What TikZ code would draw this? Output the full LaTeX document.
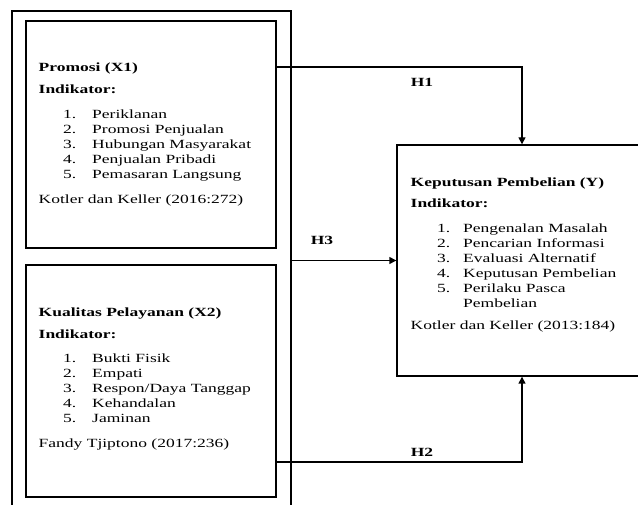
\documentclass[tikz,border=0pt]{standalone}
\usepackage{fontspec}
\setmainfont{Liberation Serif}[FakeStretch=1.4]
\usetikzlibrary{arrows.meta}
\begin{document}
\begin{tikzpicture}[x=1pt,y=-1pt,
  every node/.style={font=\fontsize{12.5}{15}\selectfont},
  boxnode/.style={draw, line width=1.4pt, rectangle, inner sep=0pt},
  conn/.style={line width=1.4pt, -{Triangle[length=7pt,width=7pt]}},
  lbl/.style={font=\fontsize{12.5}{15}\selectfont\bfseries, inner sep=0pt},
  txt/.style={anchor=base west, inner sep=0pt},
  hd/.style={anchor=base west, inner sep=0pt, font=\fontsize{12.5}{15}\selectfont\bfseries}]
\useasboundingbox (0,0) rectangle (638,505);
\clip (0,0) rectangle (638,505);
% outer frame
\node[boxnode, minimum width=279pt, minimum height=520pt] (outer) at (151.5,271) {};
% boxes
\node[boxnode, minimum width=250pt, minimum height=227pt] (x1) at (151,134.5) {};
\node[boxnode, minimum width=250pt, minimum height=232pt] (x2) at (151,381) {};
\node[boxnode, minimum width=263pt, minimum height=231pt] (y) at (528.5,260.5) {};
% box 1 text
\node[hd] (x1h) at (38.5,71.5) {Promosi (X1)};
\node[hd] (x1i) at (38.5,94) {Indikator:};
\foreach \i/\t in {1/Periklanan,2/Promosi Penjualan,3/Hubungan Masyarakat,4/Penjualan Pribadi,5/Pemasaran Langsung}{
  \node[txt] (x1n\i) at (63,{118.5+15*(\i-1)}) {\i.};
  \node[txt] (x1t\i) at (92,{118.5+15*(\i-1)}) {\t};
}
\node[txt] (x1s) at (38.5,204) {Kotler dan Keller (2016:272)};
% box 2 text
\node[hd] (x2h) at (38.5,316.5) {Kualitas Pelayanan (X2)};
\node[hd] (x2i) at (38.5,338.5) {Indikator:};
\foreach \i/\t in {1/Bukti Fisik,2/Empati,3/{Respon/Daya Tanggap},4/Kehandalan,5/Jaminan}{
  \node[txt] (x2n\i) at (63,{362.5+15*(\i-1)}) {\i.};
  \node[txt] (x2t\i) at (92,{362.5+15*(\i-1)}) {\t};
}
\node[txt] (x2s) at (38.5,447) {Fandy Tjiptono (2017:236)};
% box Y text
\node[hd] (yh) at (410.5,186.5) {Keputusan Pembelian (Y)};
\node[hd] (yi) at (410.5,208) {Indikator:};
\foreach \i/\t in {1/Pengenalan Masalah,2/Pencarian Informasi,3/Evaluasi Alternatif,4/Keputusan Pembelian,5/Perilaku Pasca}{
  \node[txt] (yn\i) at (437,{232.5+15*(\i-1)}) {\i.};
  \node[txt] (yt\i) at (463,{232.5+15*(\i-1)}) {\t};
}
\node[txt] (yt6) at (463,307.5) {Pembelian};
\node[txt] (ys) at (410.5,330) {Kotler dan Keller (2013:184)};
% connectors
\coordinate (h1) at (522,67);
\coordinate (h2) at (522,462);
\draw[conn] (x1.east |- h1) -- (h1) -- (h1 |- y.north);
\draw[conn] (x2.east |- h2) -- (h2) -- (h2 |- y.south);
\draw[conn] (outer.east |- y.west) -- (y.west);
\node[lbl] (l1) at (422,82) {H1};
\node[lbl] (l3) at (322,240) {H3};
\node[lbl] (l2) at (422,452) {H2};
\end{tikzpicture}
\end{document}
